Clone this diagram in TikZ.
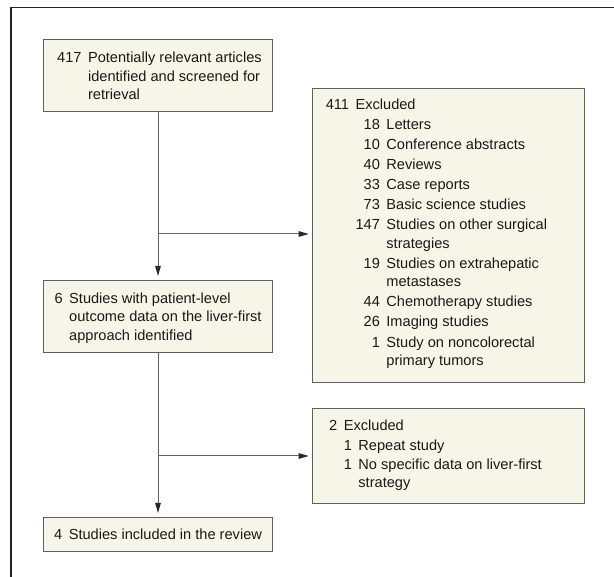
\documentclass[tikz,border=0pt]{standalone}
\usepackage{fontspec}
\setmainfont{Liberation Sans}
\usetikzlibrary{arrows.meta,calc}
\definecolor{boxfill}{RGB}{247,244,232}
\definecolor{boxline}{RGB}{95,95,95}
\definecolor{conncol}{RGB}{100,100,100}
\definecolor{tipcol}{RGB}{40,40,40}
\definecolor{framecol}{RGB}{35,35,35}
\newcommand{\gp}{\hspace{6.5pt}}
\begin{document}
\begin{tikzpicture}[x=1pt,y=-1pt,
  box/.style={draw=boxline, fill=boxfill, line width=1pt, rectangle, inner sep=0pt, anchor=north west},
  txt/.style={anchor=base west, inner sep=0pt, font=\fontsize{14.6}{18.4}\selectfont, text=black!90},
  conn/.style={draw=conncol, line width=1pt},
  arr/.style={conn, -{Triangle[length=10pt,width=5.5pt,color=tipcol]}}]
\useasboundingbox (0,0) rectangle (614,577);
% outer frame
\draw[framecol, line width=1.5pt] (11,577) -- (11,7.3) -- (614,7.3);
% boxes
\node[box, minimum width=229pt, minimum height=72pt] (b1) at (43,39) {};
\node[box, minimum width=229pt, minimum height=72pt] (b2) at (43,280) {};
\node[box, minimum width=229pt, minimum height=34pt] (b3) at (43,516.7) {};
\node[box, minimum width=272pt, minimum height=294pt] (e1) at (312,88) {};
\node[box, minimum width=272pt, minimum height=95pt] (e2) at (312,408) {};
% texts
\node[txt] (t1) at (57,62.7) {\begin{tabular}[t]{@{}r@{\gp}l@{}}
417 & Potentially relevant articles\\
 & identified and screened for\\
 & retrieval
\end{tabular}};
\node[txt] (t2) at (54.4,303.3) {\begin{tabular}[t]{@{}r@{\gp}l@{}}
6 & Studies with patient-level\\
 & outcome data on the liver-first\\
 & approach identified
\end{tabular}};
\node[txt] (t3) at (54,539.3) {\begin{tabular}[t]{@{}r@{\gp}l@{}}
4 & Studies included in the review
\end{tabular}};
\node[txt] (te1) at (325.6,109.3) {\begin{tabular}[t]{@{}r@{\gp}r@{\gp}l@{}}
411 & \multicolumn{2}{@{}l@{}}{Excluded}\\[1.7pt]
 & 18 & Letters\\[1.7pt]
 & 10 & Conference abstracts\\[1.7pt]
 & 40 & Reviews\\[1.7pt]
 & 33 & Case reports\\[1.7pt]
 & 73 & Basic science studies\\[1.7pt]
 & 147 & Studies on other surgical\\
 & & strategies\\[1.7pt]
 & 19 & Studies on extrahepatic\\
 & & metastases\\[1.7pt]
 & 44 & Chemotherapy studies\\[1.7pt]
 & 26 & Imaging studies\\[1.7pt]
 & 1 & Study on noncolorectal\\
 & & primary tumors
\end{tabular}};
\node[txt] (te2) at (329,431) {\begin{tabular}[t]{@{}r@{\gp}r@{\gp}l@{}}
2 & \multicolumn{2}{@{}l@{}}{Excluded}\\[0.9pt]
 & 1 & Repeat study\\[0.9pt]
 & 1 & No specific data on liver-first\\
 & & strategy
\end{tabular}};
% connectors
\coordinate (j1) at (157.5,234);
\coordinate (j2) at (157.5,456);
\draw[arr, shorten >=4pt] (b1.south) -- (b2.north);
\draw[arr, shorten >=3.3pt] (j1) -- (j1 -| e1.west);
\draw[arr, shorten >=3.7pt] (b2.south) -- (b3.north);
\draw[arr, shorten >=3.3pt] (j2) -- (j2 -| e2.west);
\end{tikzpicture}
\end{document}
